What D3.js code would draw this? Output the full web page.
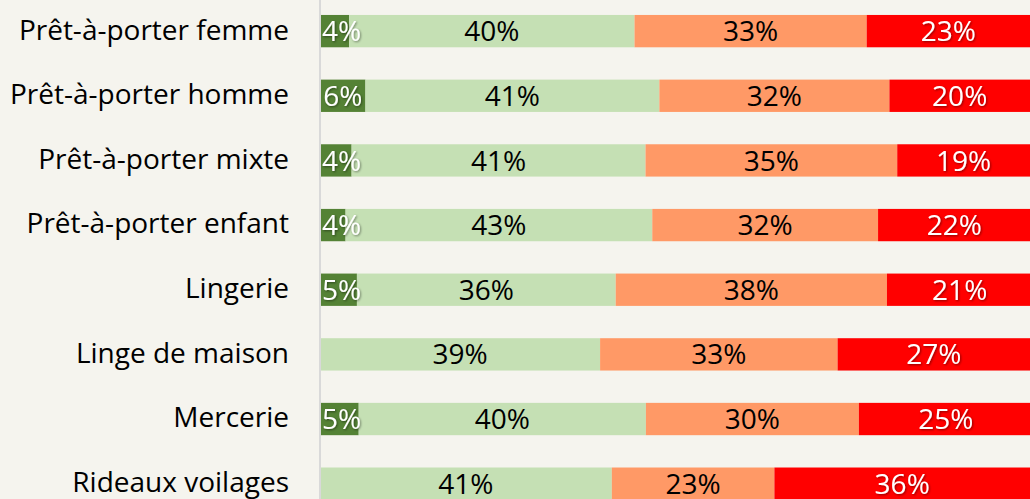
<!DOCTYPE html>
<html>
<head>
  <meta charset="utf-8" />
  <title>Répartition par catégorie</title>
  <script src="https://d3js.org/d3.v7.min.js"></script>
  <style>
    body {
      margin: 0;
      padding: 0;
      background: #f5f4ee;
      overflow: hidden;
    }
    svg {
      display: block;
    }
  </style>
</head>
<body>
  <svg id="chart" width="1030" height="499"></svg>

  <script>
    const categories = [
      "Prêt-à-porter femme",
      "Prêt-à-porter homme",
      "Prêt-à-porter mixte",
      "Prêt-à-porter enfant",
      "Lingerie",
      "Linge de maison",
      "Mercerie",
      "Rideaux voilages"
    ];

    // four stacked series, one value per category (percent)
    const darkGreen  = [4.1, 6.4, 4.45, 3.6, 5.2, 0, 5.45, 0];
    const lightGreen = [40.2, 41.4, 41.4, 43.2, 36.45, 39.45, 40.45, 41.1];
    const orange     = [32.7, 32.4, 35.45, 31.8, 38.2, 33.45, 30.0, 22.9];
    const red        = [23.0, 19.8, 18.7, 21.5, 20.5, 27.1, 24.5, 36.0];

    const seriesKeys = ["darkGreen", "lightGreen", "orange", "red"];
    const colors = {
      darkGreen: "#548235",
      lightGreen: "#c5e0b4",
      orange: "#ff9966",
      red: "#ff0000"
    };
    const labelColors = {
      darkGreen: "#ffffff",
      lightGreen: "#000000",
      orange: "#000000",
      red: "#ffffff"
    };

    const table = categories.map((c, i) => ({
      category: c,
      darkGreen: darkGreen[i],
      lightGreen: lightGreen[i],
      orange: orange[i],
      red: red[i]
    }));

    const height = 499;
    const plotLeft = 320;
    const svg = d3.select("#chart");

    const x = d3.scaleLinear().domain([0, 100]).range([plotLeft, 1030]);
    const y = d3.scaleBand()
      .domain(categories)
      .range([-1.2, 516])
      .paddingInner(0.5)
      .paddingOuter(0.25);

    const stacked = d3.stack().keys(seriesKeys)(table);

    const defs = svg.append("defs");
    const shadow = defs.append("filter").attr("id", "shadow")
      .attr("x", "-20%").attr("y", "-20%").attr("width", "140%").attr("height", "140%");
    shadow.append("feDropShadow")
      .attr("dx", 1).attr("dy", 1).attr("stdDeviation", 0.8)
      .attr("flood-color", "#000").attr("flood-opacity", 0.45);

    const layers = svg.selectAll("g.layer")
      .data(stacked)
      .join("g")
      .attr("class", "layer")
      .attr("fill", d => colors[d.key]);

    layers.selectAll("rect")
      .data(d => d.filter(s => s[1] - s[0] > 0))
      .join("rect")
      .attr("x", d => x(d[0]))
      .attr("y", d => y(d.data.category))
      .attr("width", d => x(d[1]) - x(d[0]))
      .attr("height", y.bandwidth());

    // value labels, centred in the segment but kept inside the plot
    stacked.forEach(layer => {
      svg.append("g")
        .selectAll("text")
        .data(layer.filter(s => s[1] - s[0] > 0))
        .join("text")
        .attr("y", d => y(d.data.category) + y.bandwidth() / 2)
        .attr("dy", "0.36em")
        .attr("text-anchor", "middle")
        .attr("font-family", "'Open Sans', sans-serif")
        .attr("font-size", 28)
        .attr("fill", labelColors[layer.key])
        .attr("filter", labelColors[layer.key] === "#ffffff" ? "url(#shadow)" : null)
        .text(d => Math.round(d[1] - d[0]) + "%")
        .attr("x", function (d) {
          const half = this.getComputedTextLength() / 2;
          return Math.max((x(d[0]) + x(d[1])) / 2, plotLeft + 2 + half);
        });
    });

    // category axis
    const yAxis = svg.append("g")
      .attr("transform", `translate(${plotLeft},0)`)
      .call(d3.axisLeft(y).tickSize(0).tickPadding(31));
    yAxis.select(".domain").remove();
    yAxis.selectAll("text")
      .attr("font-family", "'Open Sans', sans-serif")
      .attr("font-size", 28)
      .attr("fill", "#000")
      .attr("dy", "0.3em");

    svg.append("line")
      .attr("x1", plotLeft).attr("x2", plotLeft)
      .attr("y1", 0).attr("y2", height)
      .attr("stroke", "#d9d9d9")
      .attr("stroke-width", 2);
  </script>
</body>
</html>
